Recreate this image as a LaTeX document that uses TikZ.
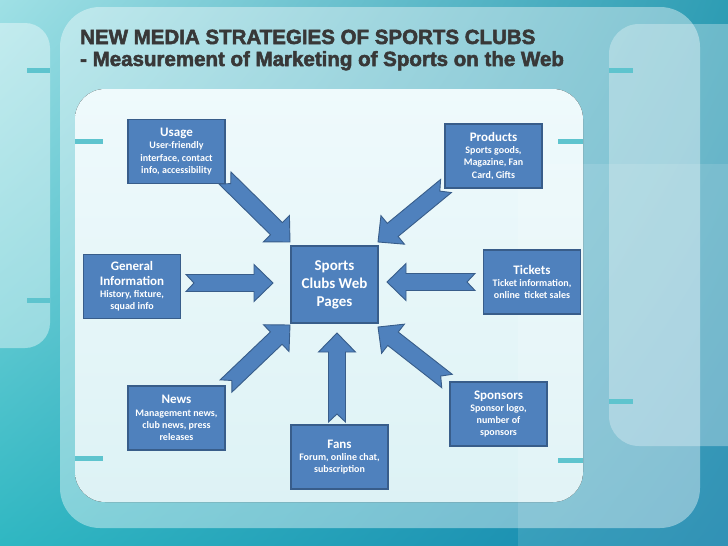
\documentclass[tikz,border=0pt]{standalone}
\usepackage{fontspec}
\setmainfont{Carlito}
\newfontfamily\titlefont{Liberation Sans}[UprightFont={* Bold},UprightFeatures={FakeBold=2.5}]
\usetikzlibrary{positioning}
\usetikzlibrary{calc}
\usetikzlibrary{shadings}
\definecolor{boxblue}{HTML}{4F81BD}
\definecolor{boxedge}{HTML}{385D8A}
\definecolor{titlegray}{HTML}{383838}
\definecolor{tabteal}{HTML}{5EC4CE}
\definecolor{bgtl}{HTML}{9FE0E5}
\definecolor{bgtr}{HTML}{2E9DB4}
\definecolor{bgbl}{HTML}{2FB7C2}
\definecolor{bgbr}{HTML}{1583AC}
\definecolor{paneltop}{HTML}{EFFAFC}
\definecolor{panelbot}{HTML}{DDF2F5}
\newcommand{\boxhead}[1]{{\fontsize{13}{15}\selectfont #1}}
% notched block arrow from tail coordinate #1 to tip coordinate #2
\newcommand{\blockarrow}[2]{%
  \path let \p1=($(#2)-(#1)$) in \pgfextra{%
    \pgfmathparse{atan2(\y1,\x1)}\xdef\arrang{\pgfmathresult}%
    \pgfmathparse{veclen(\x1,\y1)}\xdef\arrlen{\pgfmathresult}};
  \draw[blockarr, shift={(#1)}, rotate=\arrang]
    (0,-8.5) -- ({\arrlen-19},-8.5) -- ({\arrlen-19},-18.5) -- (\arrlen,0)
    -- ({\arrlen-19},18.5) -- ({\arrlen-19},8.5) -- (0,8.5) -- (8,0) -- cycle;}
\tikzset{
    box/.style = {rectangle, draw=boxedge, fill=boxblue, line width=1.2pt,
      text=white, align=center, inner sep=2pt,
      font=\bfseries\fontsize{10}{12.2}\selectfont,
      minimum width=97pt, minimum height=64pt},
    hub/.style = {box, minimum width=87pt, minimum height=77pt,
      font=\bfseries\fontsize{15}{18}\selectfont},
    blockarr/.style = {draw=boxedge, fill=boxblue, line width=0.9pt},
    glass/.style = {fill=white, fill opacity=#1},
    tab/.style = {draw=tabteal, line width=5pt},
    headline/.style = {anchor=base west, inner sep=0pt, text=titlegray,
      font=\titlefont\fontsize{20.5}{22}\selectfont}}
\begin{document}
\begin{tikzpicture}[x=1pt,y=-1pt]
    \useasboundingbox (0,0) rectangle (728,546);
    % backdrop
    \shade[upper left=bgtl, upper right=bgtr, lower left=bgbl, lower right=bgbr]
      (0,0) rectangle (728,546);
    \fill[glass=.4, rounded corners=40pt] (60,7) rectangle (700,528);
    \fill[glass=.4, rounded corners=25pt] (-30,23) rectangle (50,348);
    \fill[glass=.3, rounded corners=30pt] (609,24) rectangle (770,446);
    \fill[glass=.12] (518,164) rectangle (740,560);
    \fill[top color=paneltop, bottom color=panelbot,
      rounded corners=30pt] (75,89) rectangle (583,502);
    \begin{scope}
      \clip[rounded corners=30pt] (75,89) rectangle (583,502);
      \fill[glass=.15] (518,164) rectangle (583,502);
    \end{scope}
    \draw[tab] (27,70) -- (50,70) (27,300) -- (50,300);
    \draw[tab] (609,70) -- (633,70) (609,401) -- (633,401);
    \draw[tab] (75,141) -- (103,141) (75,458) -- (103,458);
    \draw[tab] (558,141) -- (583,141) (558,460) -- (583,460);
    % title
    \node[headline] (title) at (80,44) {NEW MEDIA STRATEGIES OF SPORTS CLUBS};
    \node[headline] (subtitle) at (80,66) {- Measurement of Marketing of Sports on the Web};
    % boxes
    \node[hub] (web) at (334.5,284.5) {Sports\\Clubs Web\\Pages};
    \node[box] (usage) at (176.5,151.5) {\boxhead{Usage}\\User-friendly\\interface, contact\\info, accessibility};
    \node[box] (products) at (493.5,156) {\boxhead{Products}\\Sports goods,\\Magazine, Fan\\Card, Gifts};
    \node[box] (general) at (132,286.5) {\boxhead{General}\\[2pt]\boxhead{Information}\\History, fixture,\\squad info};
    \node[box] (tickets) at (532,282) {\boxhead{Tickets}\\Ticket information,\\online\ \ ticket sales};
    \node[box] (news) at (176.5,418) {\boxhead{News}\\Management news,\\club news, press\\releases};
    \node[box] (fans) at (339.5,457) {\boxhead{Fans}\\Forum, online chat,\\subscription};
    \node[box] (sponsors) at (498.5,414) {\boxhead{Sponsors}\\Sponsor logo,\\number of\\sponsors};
    % arrow ends
    \coordinate (usageT) at (225,178);    \coordinate (usageH) at (290,242);
    \coordinate (productsT) at (446,186); \coordinate (productsH) at (378,242);
    \coordinate (generalT) at (186,283);  \coordinate (generalH) at (273,283);
    \coordinate (ticketsT) at (475,282);  \coordinate (ticketsH) at (387,282);
    \coordinate (newsT) at (226,386);     \coordinate (newsH) at (290,325);
    \coordinate (fansT) at (337,422);     \coordinate (fansH) at (337,333);
    \coordinate (sponsorsT) at (447,381); \coordinate (sponsorsH) at (378,327);
    \foreach \from/\to in {usageT/usageH, productsT/productsH, generalT/generalH,
      ticketsT/ticketsH, newsT/newsH, fansT/fansH, sponsorsT/sponsorsH}
      {\blockarrow{\from}{\to}}
\end{tikzpicture}
\end{document}
